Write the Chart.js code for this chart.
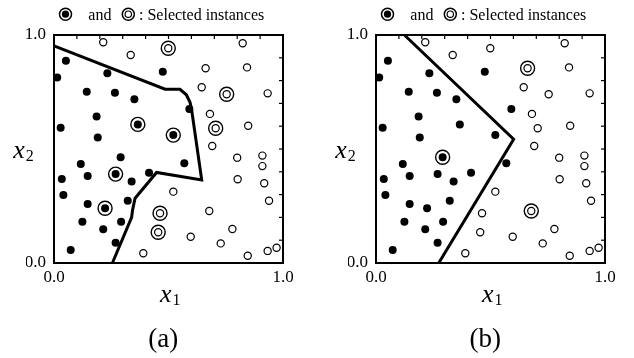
<!DOCTYPE html>
<html><head><meta charset="utf-8">
<script src="https://cdn.jsdelivr.net/npm/chart.js@4.4.1/dist/chart.umd.min.js"></script>
<style>
html,body{margin:0;padding:0;background:#fff;}
#wrap{position:relative;width:634px;height:358px;overflow:hidden;}
.pane{position:absolute;top:0;width:317px;height:358px;}
</style></head><body>
<div id="wrap">
<div class="pane" style="left:0"><canvas id="ca" width="317" height="358"></canvas></div>
<div class="pane" style="left:317px"><canvas id="cb" width="317" height="358"></canvas></div>
</div>
<script>
// ---- data ----
const openX = [0.215,0.499,0.335,0.824,0.662,0.843,0.645,0.754,0.933,0.681,0.706,0.848,0.691,0.800,0.910,0.910,0.802,0.918,0.939,0.521,0.463,0.455,0.678,0.597,0.779,0.728,0.390,0.846,0.933,0.972];
const openY = [0.968,0.942,0.912,0.964,0.854,0.858,0.771,0.740,0.744,0.654,0.591,0.602,0.513,0.462,0.471,0.425,0.367,0.350,0.273,0.313,0.218,0.135,0.228,0.115,0.149,0.086,0.043,0.032,0.053,0.067];
const filledX = [0.052,0.014,0.233,0.475,0.143,0.266,0.351,0.591,0.186,0.366,0.521,0.029,0.191,0.291,0.117,0.569,0.269,0.147,0.415,0.034,0.339,0.041,0.147,0.223,0.322,0.124,0.215,0.293,0.269,0.073];
const filledY = [0.887,0.814,0.832,0.839,0.751,0.747,0.718,0.675,0.642,0.608,0.561,0.593,0.550,0.464,0.434,0.437,0.390,0.382,0.396,0.368,0.357,0.298,0.259,0.240,0.273,0.181,0.148,0.181,0.089,0.057];
const boundaryAX = [0.000,0.485,0.550,0.578,0.594,0.601,0.645,0.448,0.354,0.343,0.339,0.255];
const boundaryAY = [0.952,0.762,0.762,0.738,0.705,0.672,0.364,0.397,0.284,0.232,0.200,0.000];
const boundaryBX = [0.124,0.601,0.274];
const boundaryBY = [1.000,0.543,0.000];
const selectedOpenA = [1,7,10,20,21];
const selectedFilledA = [9,10,16,23];
const selectedOpenB = [4,22];
const selectedFilledB = [13];
const tickLabels = ['0.0','1.0'];
const panelLabels = ['(a)','(b)'];
const legendWords = ['and', ': Selected instances'];

const SERIF = '"Liberation Serif", "Times New Roman", serif';
const pts = (xs, ys) => xs.map((v,i)=>({x:v, y:ys[i]}));
const pick = (xs, ys, idx) => idx.map(i=>({x:xs[i], y:ys[i]}));

const decor = {
  id:'decor',
  beforeDatasetsDraw(chart){
    const {ctx, chartArea:a, scales:{x,y}} = chart;
    ctx.save();
    ctx.strokeStyle='#000';
    ctx.lineWidth=2;
    ctx.strokeRect(a.left, a.top, a.right-a.left, a.bottom-a.top);
    ctx.lineWidth=1.2;
    for(let i=1;i<10;i++){
      const px = x.getPixelForValue(i/10), py = y.getPixelForValue(i/10);
      ctx.beginPath(); ctx.moveTo(px,a.top); ctx.lineTo(px,a.top+4); ctx.stroke();
      ctx.beginPath(); ctx.moveTo(a.right,py); ctx.lineTo(a.right-4,py); ctx.stroke();
    }
    ctx.restore();
  },
  afterDraw(chart, args, o){
    const {ctx, chartArea:a} = chart;
    const L = a.left;
    ctx.save();
    ctx.fillStyle='#000'; ctx.strokeStyle='#000';
    // legend
    const cy = 14.2;
    ctx.lineWidth=1.5;
    ctx.beginPath(); ctx.arc(L+11.5, cy, 6.0, 0, Math.PI*2); ctx.stroke();
    ctx.beginPath(); ctx.arc(L+11.5, cy, 3.6, 0, Math.PI*2); ctx.fill();
    ctx.beginPath(); ctx.arc(L+74.3, cy, 6.0, 0, Math.PI*2); ctx.stroke();
    ctx.lineWidth=1.2;
    ctx.beginPath(); ctx.arc(L+74.3, cy, 3.2, 0, Math.PI*2); ctx.stroke();
    ctx.font = '16px '+SERIF;
    ctx.textBaseline='alphabetic'; ctx.textAlign='left';
    ctx.fillText(legendWords[0], L+34.3, 19.5);
    ctx.fillText(legendWords[1], L+85, 19.5);
    // x1 title
    ctx.font = 'italic 26px '+SERIF;
    ctx.fillText('x', L+106, 301.5);
    let w = ctx.measureText('x').width;
    ctx.font = '16px '+SERIF;
    ctx.fillText('1', L+106+w+1, 305);
    // x2 title
    ctx.font = 'italic 26px '+SERIF;
    ctx.fillText('x', L-40.7, 158);
    w = ctx.measureText('x').width;
    ctx.font = '16px '+SERIF;
    ctx.fillText('2', L-40.7+w+1, 161);
    // panel label
    ctx.font = '27px '+SERIF;
    ctx.textAlign='center';
    ctx.fillText(o.label, L+109.3, 346.5);
    ctx.restore();
  }
};

function makeChart(id, boundX, boundY, selOpen, selFilled, label, pad){
  const tickFont = {family: SERIF, size: 17};
  return new Chart(document.getElementById(id), {
    type:'scatter',
    data:{datasets:[
      {label:'selected', data:[...pick(openX,openY,selOpen), ...pick(filledX,filledY,selFilled)],
       pointRadius:7, pointBackgroundColor:'rgba(0,0,0,0)', pointBorderColor:'#000', pointBorderWidth:1.4, clip:false, order:0},
      {label:'filled', data:pts(filledX,filledY), pointRadius:4, pointBackgroundColor:'#000', pointBorderWidth:0, clip:false, order:1},
      {label:'open', data:pts(openX,openY), pointRadius:3.6, pointBackgroundColor:'#fff', pointBorderColor:'#000', pointBorderWidth:1.2, clip:false, order:2},
      {label:'boundary', data:pts(boundX,boundY), showLine:true, borderColor:'#000', borderWidth:3, pointRadius:0, tension:0, clip:false, order:3, borderJoinStyle:'miter'}
    ]},
    options:{
      responsive:false, animation:false, devicePixelRatio:1,
      layout:{padding:pad},
      plugins:{legend:{display:false}, tooltip:{enabled:false}, title:{display:false}, decor:{label}},
      scales:{
        x:{type:'linear', min:0, max:1, grid:{display:false, drawTicks:false}, border:{display:false},
           afterBuildTicks:s=>{s.ticks=[{value:0},{value:1}];},
           afterFit:s=>{s.height=24;},
           ticks:{padding:4, color:'#000', font:tickFont, autoSkip:false, maxRotation:0, callback:(v,i)=>tickLabels[i]}},
        y:{type:'linear', min:0, max:1, grid:{display:false, drawTicks:false}, border:{display:false},
           afterBuildTicks:s=>{s.ticks=[{value:0},{value:1}];},
           afterFit:s=>{s.width=28;},
           ticks:{padding:8, color:'#000', font:tickFont, autoSkip:false, callback:(v,i)=>tickLabels[i]}}
      }
    },
    plugins:[decor]
  });
}
makeChart('ca', boundaryAX, boundaryAY, selectedOpenA, selectedFilledA, panelLabels[0], {left:26, right:34, top:35, bottom:71});
makeChart('cb', boundaryBX, boundaryBY, selectedOpenB, selectedFilledB, panelLabels[1], {left:31, right:29, top:35, bottom:71});
</script>
</body></html>
